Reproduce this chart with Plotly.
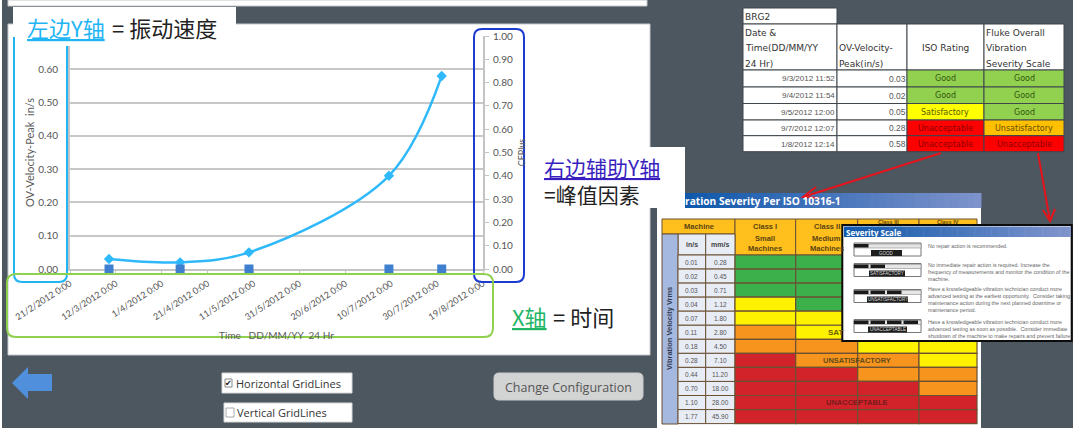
import plotly.graph_objects as go

# ---------- chart data ----------
dates = ["2012-03-09", "2012-04-09", "2012-05-09", "2012-07-09", "2012-08-01"]
velocity = [0.03, 0.02, 0.05, 0.28, 0.58]
cfplus = [0, 0, 0, 0, 0]
left_ticks = [0, 0.1, 0.2, 0.3, 0.4, 0.5, 0.6, 0.7]
left_labels = ["0.00", "0.10", "0.20", "0.30", "0.40", "0.50", "0.60", ""]

# ---------- BRG2 table ----------
brg_dates = ["9/3/2012 11:52", "9/4/2012 11:54", "9/5/2012 12:00", "9/7/2012 12:07", "1/8/2012 12:14"]
brg_values = ["0.03", "0.02", "0.05", "0.28", "0.58"]
brg_iso = ["Good", "Good", "Satisfactory", "Unacceptable", "Unacceptable"]
brg_fluke = ["Good", "Good", "Good", "Unsatisfactory", "Unacceptable"]

# ---------- ISO severity table ----------
iso_ins = ["0.01", "0.02", "0.03", "0.04", "0.07", "0.11", "0.18", "0.28", "0.44", "0.70", "1.10", "1.77"]
iso_mms = ["0.28", "0.45", "0.71", "1.12", "1.80", "2.80", "4.50", "7.10", "11.20", "18.00", "28.00", "45.90"]
class_1 = list("GGGYYOORRRRR")
class_2 = list("GGGGYYOORRRR")
class_3 = list("GGGGGGYOORRR")
class_4 = list("GGGGGGYYOORR")

scale_notes = [
    ["No repair action is recommended."],
    ["No immediate repair action is required. Increase the",
     "frequency of measurements and monitor the condition of the",
     "machine."],
    ["Have a knowledgeable vibration technician conduct more",
     "advanced testing at the earliest opportunity.  Consider taking",
     "maintenance action during the next planned downtime or",
     "maintenance period."],
    ["Have a knowledgeable vibration technician conduct more",
     "advanced testing as soon as possible.  Consider immediate",
     "shutdown of the machine to make repairs and prevent failure."],
]
scale_names = ["GOOD", "SATISFACTORY", "UNSATISFACTORY", "UNACCEPTABLE"]

# ---------- layout helpers (pixel positions of page furniture) ----------
W, H = 1080, 433
L, R, T, B = 70, 483, 36, 269
px = lambda x: (x - L) / (R - L)
py = lambda y: (B - y) / (B - T)

shapes, notes = [], []
CJK = "Noto Sans CJK SC"


def rect(x0, y0, x1, y1, fill=None, line=None, lw=1, layer="above"):
    shapes.append(dict(type="rect", xref="paper", yref="paper", x0=px(x0), x1=px(x1), y0=py(y0), y1=py(y1),
                       fillcolor=fill or "rgba(0,0,0,0)", line=dict(color=line or "rgba(0,0,0,0)", width=lw if line else 0),
                       layer=layer))


def path(points, fill=None, line=None, lw=1, close=True, layer="above"):
    d = "M " + " L ".join(f"{px(x):.5f},{py(y):.5f}" for x, y in points) + (" Z" if close else "")
    shapes.append(dict(type="path", xref="paper", yref="paper", path=d, fillcolor=fill or "rgba(0,0,0,0)",
                       line=dict(color=line or "rgba(0,0,0,0)", width=lw if line else 0), layer=layer))


def rounded(x0, y0, x1, y1, r, color, lw=2):
    d = (f"M {px(x0 + r)},{py(y0)} L {px(x1 - r)},{py(y0)} Q {px(x1)},{py(y0)} {px(x1)},{py(y0 + r)} "
         f"L {px(x1)},{py(y1 - r)} Q {px(x1)},{py(y1)} {px(x1 - r)},{py(y1)} L {px(x0 + r)},{py(y1)} "
         f"Q {px(x0)},{py(y1)} {px(x0)},{py(y1 - r)} L {px(x0)},{py(y0 + r)} Q {px(x0)},{py(y0)} {px(x0 + r)},{py(y0)} Z")
    shapes.append(dict(type="path", xref="paper", yref="paper", path=d, line=dict(color=color, width=lw), layer="above"))


def txt(x, y, s, size=9, color="#333333", font="DejaVu Sans", anchor="center", angle=0):
    notes.append(dict(xref="paper", yref="paper", x=px(x), y=py(y), text=s, showarrow=False, xanchor=anchor,
                      yanchor="middle", textangle=angle, align="left" if anchor == "left" else "center",
                      font=dict(size=size, color=color, family=font), borderpad=0, borderwidth=0))


def gradient(x0, y0, x1, y1, c0, c1, n=40):
    for i in range(n):
        t = i / (n - 1)
        c = tuple(round(a + (b - a) * t) for a, b in zip(c0, c1))
        rect(x0 + (x1 - x0) * i / n, y0, x0 + (x1 - x0) * (i + 1) / n + 0.5, y1, fill=f"rgb{c}")


DARK = "#4D5760"
# page background panels
rect(2, 0, 657, 428, fill=DARK, layer="below")
rect(657, 0, 1073, 428, fill=DARK, layer="below")
rect(8, 0, 647, 6, fill="white", line="#C4C8CC", lw=1, layer="below")
rect(8, 24, 650, 355, fill="white", line="#C4C8CC", lw=1, layer="below")

# coloured call-out frames and labels over the chart
rounded(14, 20, 67, 282, 8, "#1FB5F5", 2)
rounded(474, 29, 524, 282, 8, "#1A3AD0", 2)
rounded(7, 274, 493, 337, 9, "#8FD14F", 2)
rect(13, 7, 236, 37, fill="white")
rect(40, 37, 74, 46, fill="white")
rect(530, 147, 685, 208, fill="white")

txt(27, 27, "<u>左边Y轴</u>", 22, "#1FB5F5", CJK, "left")
txt(112, 27, "= 振动速度", 22, "#222222", CJK, "left")
txt(544, 180, "<span style='color:#3A1FC0'><u>右边辅助Y轴</u></span><br>=峰值因素", 21, "#222222", CJK, "left")
txt(512, 316, "<u>X轴</u>", 22, "#22B566", CJK, "left")
txt(553, 316, "= 时间", 22, "#222222", CJK, "left")

# bottom controls
path([(12, 383), (28, 367), (28, 374), (52, 374), (52, 391), (28, 391), (28, 399)], fill="#4F8FDB")
rect(222, 373, 352, 393, fill="white", line="#D8D8D8")
rect(224, 403, 352, 422, fill="white", line="#D8D8D8")
rect(225, 379, 232, 387, fill="white", line="#888888")
rect(226, 408, 234, 417, fill="white", line="#AAAAAA")
txt(228.5, 383, "✔", 8, "#111111", "DejaVu Sans")
txt(236, 383, "Horizontal GridLines", 11, "#333333", "Open Sans", "left")
txt(237, 412, "Vertical GridLines", 11, "#333333", "Open Sans", "left")
rounded(494, 373, 643, 400, 5, "#C9CBCC", 1)
shapes[-1]["fillcolor"] = "#D2D3D3"
txt(568.5, 387, "Change Configuration", 12.5, "#555555", "Open Sans")

# BRG2 table
bx = [743, 837, 907, 984, 1064]
by = [24, 70, 87, 103.5, 120, 135.7, 151.7]
fills = {"Good": "#92D050", "Satisfactory": "#FFFF00", "Unsatisfactory": "#FFC000", "Unacceptable": "#FF0000"}
inks = {"Good": "#33570F", "Satisfactory": "#5C5C00", "Unsatisfactory": "#664C00", "Unacceptable": "#8A0000"}
BORDER = "#3E464C"
rect(743, 8, 837, 24, fill="white", line=BORDER)
txt(745, 17, "BRG2", 9, "#333333", anchor="left")
for c in range(4):
    rect(bx[c], by[0], bx[c + 1], by[1], fill="white", line=BORDER)
for yy, s in zip([33, 48, 64], ["Date &", "Time(DD/MM/YY", "24 Hr)"]):
    txt(745, yy, s, 9, "#333333", anchor="left")
for yy, s in zip([48.5, 64], ["OV-Velocity-", "Peak(in/s)"]):
    txt(839, yy, s, 9, "#333333", anchor="left")
txt(945.5, 48, "ISO Rating", 9, "#333333")
for yy, s in zip([33, 48.5, 64], ["Fluke Overall", "Vibration", "Severity Scale"]):
    txt(986, yy, s, 9, "#333333", anchor="left")
for r in range(5):
    y0, y1 = by[r + 1], by[r + 2]
    ym = (y0 + y1) / 2 + 0.5
    rect(bx[0], y0, bx[1], y1, fill="white", line=BORDER)
    rect(bx[1], y0, bx[2], y1, fill="white", line=BORDER)
    rect(bx[2], y0, bx[3], y1, fill=fills[brg_iso[r]], line=BORDER)
    rect(bx[3], y0, bx[4], y1, fill=fills[brg_fluke[r]], line=BORDER)
    txt(835, ym, brg_dates[r], 8, "#555555", "Liberation Sans", "right")
    txt(906, ym, brg_values[r], 8.5, "#555555", "Liberation Sans", "right")
    txt(945.5, ym, brg_iso[r], 8, inks[brg_iso[r]])
    txt(1024, ym, brg_fluke[r], 8, inks[brg_fluke[r]])

# ISO sheet
rect(657, 208, 981, 433, fill="white")
rect(655, 213, 657, 428, fill=DARK)
gradient(685, 193, 981, 208, (15, 88, 171), (126, 147, 204))
txt(685, 200.5, "<b>ration Severity Per ISO 10316-1</b>", 10.2, "white", "Open Sans", "left")

ix = [662, 678, 705.7, 735, 795.7, 857.7, 919, 977]
iy0, ih = 255, 14.05
HEAD = "#FFC01E"
EDGE = "#6B5033"
cell_fill = {"G": "#3CB04A", "Y": "#FFF200", "O": "#F7941D", "R": "#D2232A"}
rect(ix[0], 219, ix[3], 234, fill=HEAD, line=EDGE)
txt((ix[0] + ix[3]) / 2, 226.5, "<b>Machine</b>", 7.5, "#5A4310", "Liberation Sans")
class_heads = [["Class I", "Small", "Machines"], ["Class II", "Medium", "Machines"]]
for c in range(4):
    rect(ix[c + 3], 219, ix[c + 4], iy0, fill=HEAD, line=EDGE)
for c in range(2):
    for yy, s in zip([226, 238, 248], class_heads[c]):
        txt((ix[c + 3] + ix[c + 4]) / 2, yy, f"<b>{s}</b>", 7.5, "#5A4310", "Liberation Sans")
txt((ix[5] + ix[6]) / 2, 221.8, "<b>Class III</b>", 5.5, "#5A4310", "Liberation Sans")
txt((ix[6] + ix[7]) / 2, 221.8, "<b>Class IV</b>", 5.5, "#5A4310", "Liberation Sans")
rect(ix[1], 234, ix[2], iy0, fill="#E8ECF5", line=EDGE)
rect(ix[2], 234, ix[3], iy0, fill="#E8ECF5", line=EDGE)
txt((ix[1] + ix[2]) / 2, 244, "<b>in/s</b>", 7, "#444444", "Liberation Sans")
txt((ix[2] + ix[3]) / 2, 244, "<b>mm/s</b>", 7, "#444444", "Liberation Sans")
rect(ix[0], 234, ix[1], 424, fill="#A5B8E0", line=EDGE)
txt(670, 329, "<b>Vibration Velocity Vrms</b>", 7.5, "#333A4C", "Liberation Sans", angle=-90)
for r in range(12):
    y0, y1 = iy0 + r * ih, iy0 + (r + 1) * ih
    rect(ix[1], y0, ix[2], y1, fill="#E8ECF5", line=EDGE)
    rect(ix[2], y0, ix[3], y1, fill="#E8ECF5", line=EDGE)
    txt((ix[1] + ix[2]) / 2, (y0 + y1) / 2, iso_ins[r], 6.5, "#555555", "Liberation Sans")
    txt((ix[2] + ix[3]) / 2, (y0 + y1) / 2, iso_mms[r], 6.5, "#555555", "Liberation Sans")
    for c, col in enumerate([class_1, class_2, class_3, class_4]):
        rect(ix[c + 3], y0, ix[c + 4], y1, fill=cell_fill[col[r]], line=EDGE, lw=1.2)
txt(836, 332, "<b>SAT</b>", 8, "#6A6000", "Liberation Sans")
txt(857, 360.5, "<b>UNSATISFACTORY</b>", 7.5, "#5E4A1C", "Liberation Sans")
txt(857, 402.5, "<b>UNACCEPTABLE</b>", 7.5, "#7A1A1C", "Liberation Sans")

# severity scale pop-up
rect(842.3, 225, 1071.7, 341, fill="white", line="#0C0C0C", lw=2)
gradient(844, 226.5, 1070.5, 237, (16, 89, 172), (128, 148, 204))
txt(846, 232, "<b>Severity Scale</b>", 8, "white", "Open Sans", "left")
scale_y = [243, 263.5, 289.5, 319.5]
scale_segments = [1, 2, 3, 4]
scale_label = [(871, 902), (869, 905), (867, 908), (868, 907)]
note_y = [246, 264.7, 289.3, 321.7]
for i in range(4):
    y0 = scale_y[i]
    rect(854, y0, 921, y0 + 13, fill="white", line="#777777")
    rect(854, y0 + 1, 921, y0 + 5, fill="#E6E6E6", line="#777777", lw=0.5)
    for k in range(scale_segments[i]):
        rect(854 + k * 16.5, y0 + 1, 868.5 + k * 16.5, y0 + 4.5, fill="#1A1A1A")
    rect(scale_label[i][0], y0 + 7, scale_label[i][1], y0 + 13, fill="#1E1E1E")
    txt((scale_label[i][0] + scale_label[i][1]) / 2, y0 + 10, scale_names[i], 4.5, "#DDDDDD", "Liberation Sans")
    for j, s in enumerate(scale_notes[i]):
        txt(928, note_y[i] + j * 7.0, s, 5.3, "#666666", "Liberation Sans", "left")

# red arrows
path([(941, 153), (803, 197)], line="#E5141C", lw=2, close=False)
path([(816, 187), (803, 197), (819, 198)], line="#E5141C", lw=2, close=False)
path([(1038, 153), (1050, 221)], line="#E5141C", lw=2, close=False)
path([(1043, 210), (1050, 221), (1055, 209)], line="#E5141C", lw=2, close=False)

# ---------- figure ----------
fig = go.Figure()
fig.add_trace(go.Scatter(x=dates, y=velocity, name="OV-Velocity-Peak", mode="lines+markers",
                         line=dict(color="#2FB9FB", width=2.5, shape="spline", smoothing=1),
                         marker=dict(symbol="diamond", size=8, color="#2FB9FB"), yaxis="y", cliponaxis=False))
fig.add_trace(go.Scatter(x=dates, y=cfplus, name="CFPlus", mode="markers",
                         marker=dict(symbol="square", size=9, color="#3F7FD0"), yaxis="y2", cliponaxis=False))

tick_font = dict(family="Lato", size=10, color="#555555")
x_tick_font = dict(family="Lato", size=9, color="#555555")
fig.update_layout(
    width=W, height=H, autosize=False, showlegend=False,
    margin=dict(l=L, r=W - R, t=T, b=H - B, pad=0),
    paper_bgcolor="white", plot_bgcolor="rgba(0,0,0,0)",
    xaxis=dict(type="date", range=["2012-02-21", "2012-08-19"], tick0="2012-02-21", dtick=20 * 86400000,
               tickformat="%-d/%-m/%Y %-H:%M", tickangle=-33, tickfont=x_tick_font, showgrid=False,
               showline=True, linecolor="#C4C4C4", linewidth=2, ticks="outside", ticklen=4, tickcolor="#C4C4C4",
               layer="below traces",
               title=dict(text="Time\u00a0\u00a0\u00a0DD/MM/YY\u00a0\u00a024\u00a0Hr",
                          font=dict(family="Lato", size=10, color="#5A5A5A"), standoff=11)),
    yaxis=dict(range=[0, 0.7], tickmode="array", tickvals=left_ticks, ticktext=left_labels, tickfont=tick_font,
               showgrid=True, gridcolor="#C8C8C8", gridwidth=2, zeroline=False, showline=True, linecolor="#C4C4C4",
               linewidth=2, ticks="", ticklabelstandoff=8, layer="below traces",
               title=dict(text="OV-Velocity-Peak\u00a0\u00a0in/s", font=dict(family="Lato", size=11, color="#5A5A5A"),
                          standoff=1)),
    yaxis2=dict(range=[0, 1], dtick=0.1, tickformat=".2f", tickfont=tick_font, overlaying="y", side="right",
                showgrid=False, zeroline=False, showline=True, linecolor="#C4C4C4", linewidth=2, ticks="outside",
                ticklen=4, tickcolor="#C4C4C4", ticklabelstandoff=2, layer="below traces",
                title=dict(text="CFPlus", font=dict(family="Lato", size=9, color="#5A5A5A"), standoff=7)),
    shapes=shapes, annotations=notes,
)
fig.write_html("out.html", config={"displayModeBar": False},
               post_script="document.body.style.margin='0';document.body.style.overflow='hidden';")
